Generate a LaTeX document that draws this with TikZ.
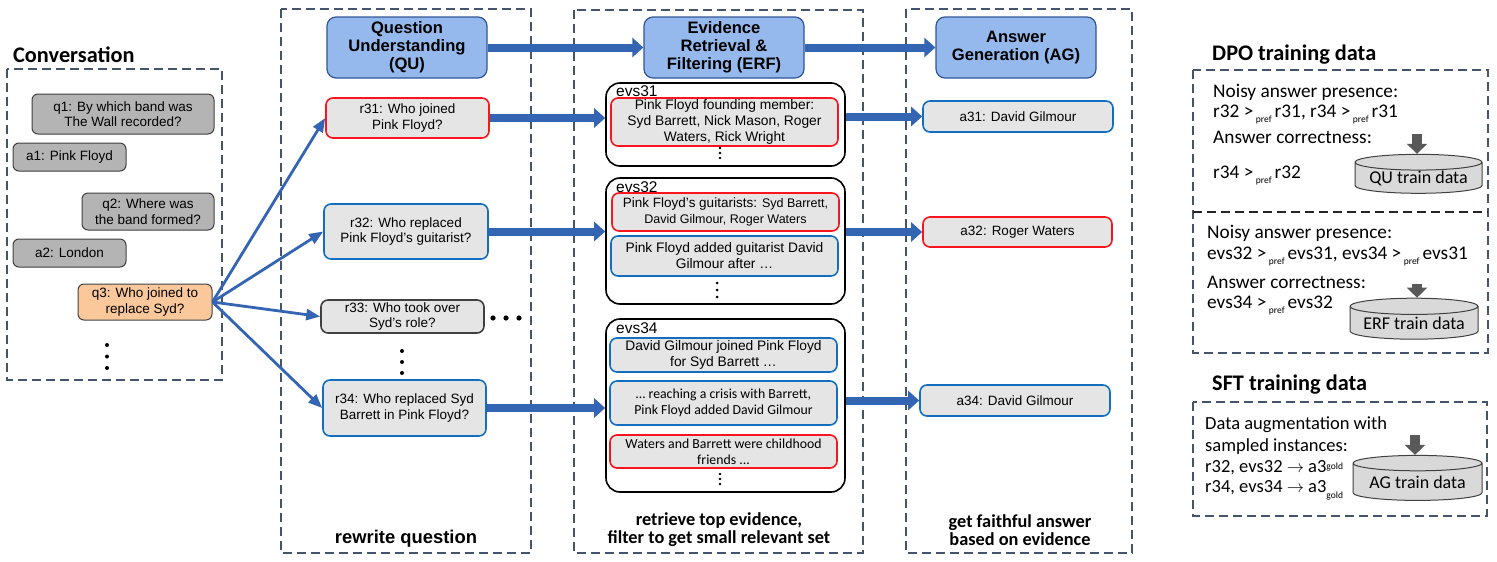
\documentclass[tikz,border=0pt]{standalone}
\usepackage{fontspec}
\setmainfont{Liberation Sans}
\newfontfamily\calibri{Carlito}
\usepackage{tikz}
\usetikzlibrary{arrows.meta,shapes.geometric}
\definecolor{framegray}{RGB}{68,84,106}
\definecolor{headfill}{RGB}{149,185,236}
\definecolor{headline}{RGB}{47,85,151}
\definecolor{flowblue}{RGB}{52,101,178}
\definecolor{chatgray}{RGB}{180,180,180}
\definecolor{chatline}{RGB}{64,64,64}
\definecolor{cardfill}{RGB}{229,229,229}
\definecolor{badred}{RGB}{250,20,30}
\definecolor{goodblue}{RGB}{20,110,190}
\definecolor{askorange}{RGB}{250,200,155}
\definecolor{dbfill}{RGB}{217,217,217}
\definecolor{dbarrowgray}{RGB}{89,89,89}
\newcommand{\boxfont}{\fontsize{13.5}{15.5}\selectfont}
\newcommand{\evfont}{\fontsize{13.8}{16}\selectfont}
\newcommand{\headfont}{\fontsize{16.6}{18}\selectfont\bfseries}
\newcommand{\pref}{\kern2.5pt\raisebox{-5pt}[0pt][0pt]{\fontsize{9.5}{10}\selectfont pref}\kern3pt}
\newcommand{\goldmark}[1]{\raisebox{#1}[0pt][0pt]{\fontsize{9.5}{10}\selectfont gold}}
\begin{document}
\begin{tikzpicture}[x=1pt,y=-1pt,
    colframe/.style={draw=framegray,line width=1.8pt,dash pattern=on 9pt off 5pt},
    hdr/.style={draw=headline,fill=headfill,line width=1.2pt,rounded corners=9pt,minimum width=160pt,minimum height=61pt,align=center,font=\headfont,inner sep=0pt},
    chat/.style={draw=chatline,fill=chatgray,line width=1pt,rounded corners=6pt,align=center,font=\boxfont,inner sep=0pt},
    card/.style={fill=cardfill,line width=1.6pt,rounded corners=7pt,align=center,font=\boxfont,inner sep=0pt},
    redcard/.style={card,draw=badred},
    bluecard/.style={card,draw=goodblue},
    graycard/.style={card,draw=chatline},
    evgroup/.style={draw=black,line width=1.6pt,rounded corners=14pt,inner sep=0pt},
    evtag/.style={anchor=west,inner sep=0pt,font=\fontsize{15.5}{16}\selectfont},
    fatarrow/.style={draw=flowblue,line width=8pt,-{Triangle[width=19pt,length=11pt]}},
    feedarrow/.style={draw=flowblue,line width=2.8pt,-{Triangle[width=11pt,length=14pt]}},
    capt/.style={align=center,inner sep=0pt,font=\calibri\bfseries\fontsize{18.3}{18}\selectfont},
    paneltitle/.style={anchor=west,inner sep=0pt,font=\calibri\bfseries\fontsize{22.3}{24}\selectfont},
    paneltext/.style={anchor=west,inner sep=0pt,font=\calibri\fontsize{18.5}{21}\selectfont},
    dpotext/.style={paneltext,font=\calibri\fontsize{19.3}{21}\selectfont},
    traindb/.style={cylinder,shape border rotate=90,aspect=0.16,draw=chatline,fill=dbfill,line width=1pt,font=\calibri\fontsize{18}{18}\selectfont,inner sep=0pt},
    dbarrow/.style={draw=dbarrowgray,line width=10pt,-{Triangle[width=20pt,length=10pt]}}]
\useasboundingbox (0,0) rectangle (1497,562);

\draw[colframe] (7,69) rectangle (222,380);
\draw[colframe] (281,9) rectangle (531,553);
\draw[colframe] (574,10) rectangle (863,553);
\draw[colframe] (906,9) rectangle (1132,553);

\node[paneltitle] (convtitle) at (13,55) {Conversation};
\node[chat,minimum width=182pt,minimum height=40pt] (q1) at (123,114) {q1: By which band was\\The Wall recorded?};
\node[chat,minimum width=113pt,minimum height=28pt] (a1) at (69.5,157) {a1: Pink Floyd};
\node[chat,minimum width=132pt,minimum height=37pt] (q2) at (148,211.5) {q2: Where was\\the band formed?};
\node[chat,minimum width=113pt,minimum height=28pt] (a2) at (69.5,253) {a2: London};
\node[chat,fill=askorange,minimum width=134pt,minimum height=36pt] (q3) at (145,302) {q3: Who joined to\\replace Syd?};
\foreach \k in {0,1,2} \fill (107,345+11.5*\k) circle[radius=2pt];

\node[hdr] (qu) at (407,47.5) {Question\\Understanding\\(QU)};
\node[redcard,minimum width=163pt,minimum height=40pt] (r31) at (407.5,118) {r31: Who joined\\Pink Floyd?};
\node[bluecard,minimum width=164pt,minimum height=55pt] (r32) at (406,231.5) {r32: Who replaced\\Pink Floyd’s guitarist?};
\node[graycard,minimum width=163pt,minimum height=33pt] (r33) at (402.5,316.5) {r33: Who took over\\Syd’s role?};
\node[bluecard,minimum width=163pt,minimum height=56pt] (r34) at (404.5,408) {r34: Who replaced Syd\\Barrett in Pink Floyd?};
\foreach \k in {0,1,2} \fill (493+13*\k,318) circle[radius=2.6pt];
\foreach \k in {0,1,2} \fill (402,351+11*\k) circle[radius=2pt];
\node[font=\bfseries\fontsize{18.4}{18}\selectfont,inner sep=0pt] (qucap) at (406,539) {rewrite question};

\draw[feedarrow] (q3.east) -- (r31.west);
\draw[feedarrow] (q3.east) -- (r32.west);
\draw[feedarrow] (q3.east) -- (r33.west);
\draw[feedarrow] (q3.east) -- (r34.west);

\node[hdr] (erf) at (724,47.5) {Evidence\\Retrieval \&\\Filtering (ERF)};
\node[evgroup,minimum width=239pt,minimum height=83pt] (ev31) at (725.5,124.5) {};
\node[evtag] (ev31tag) at (616,91) {evs31};
\node[redcard,font=\evfont,minimum width=227pt,minimum height=48pt] (ev31a) at (724.5,122) {Pink Floyd founding member:\\Syd Barrett, Nick Mason, Roger\\Waters, Rick Wright};
\foreach \k in {0,1,2} \fill (720,148+5*\k) circle[radius=1.3pt];

\node[evgroup,minimum width=239pt,minimum height=126pt] (ev32) at (725.5,241) {};
\node[evtag] (ev32tag) at (616,187) {evs32};
\node[redcard,minimum width=227pt,minimum height=38pt] (ev32a) at (725.5,212) {Pink Floyd’s guitarists: {\fontsize{12.5}{15}\selectfont Syd Barrett,}\\{\fontsize{12.5}{15}\selectfont David Gilmour, Roger Waters}};
\node[bluecard,font=\evfont,minimum width=227pt,minimum height=40pt] (ev32b) at (724.5,256) {Pink Floyd added guitarist David\\Gilmour after …};
\foreach \k in {0,1,2} \fill (717,283+7*\k) circle[radius=1.5pt];

\node[evgroup,minimum width=239pt,minimum height=173pt] (ev34) at (725.5,405.5) {};
\node[evtag] (ev34tag) at (616,328) {evs34};
\node[bluecard,font=\evfont,minimum width=227pt,minimum height=34pt] (ev34a) at (723.5,355) {David Gilmour joined Pink Floyd\\for Syd Barrett …};
\node[bluecard,font=\calibri\evfont,minimum width=227pt,minimum height=44pt] (ev34b) at (723.5,403) {… reaching a crisis with Barrett,\\Pink Floyd added David Gilmour};
\node[redcard,font=\calibri\evfont,minimum width=227pt,minimum height=33pt] (ev34c) at (723.5,451.5) {Waters and Barrett were childhood\\friends ...};
\foreach \k in {0,1,2} \fill (720,474+5*\k) circle[radius=1.3pt];
\node[capt] (erfcap) at (719,530) {retrieve top evidence,\\filter to get small relevant set};

\node[hdr] (ag) at (1016,47.5) {Answer\\Generation (AG)};
\node[bluecard,minimum width=190pt,minimum height=31pt] (a31) at (1018,116.5) {a31: David Gilmour};
\node[redcard,minimum width=189pt,minimum height=30pt] (a32) at (1017.5,232) {a32: Roger Waters};
\node[bluecard,minimum width=190pt,minimum height=31pt] (a34) at (1015,400.5) {a34: David Gilmour};
\node[capt] (agcap) at (1020,530) {get faithful answer\\based on evidence};

\draw[fatarrow] (qu) -- (erf);
\draw[fatarrow] (erf) -- (ag);
\draw[fatarrow] (r31.east) -- (r31.east -| ev31.west);
\draw[fatarrow] (r32.east) -- (r32.east -| ev32.west);
\draw[fatarrow] (r34.east) -- (r34.east -| ev34.west);
\draw[fatarrow] (ev31.east |- a31.west) -- (a31.west);
\draw[fatarrow] (ev32.east |- a32.west) -- (a32.west);
\draw[fatarrow] (ev34.east |- a34.west) -- (a34.west);

\node[paneltitle] (dpotitle) at (1212,55) {DPO training data};
\draw[colframe] (1193,70) rectangle (1488,353);
\draw[line width=1.8pt,dash pattern=on 9pt off 5pt,draw=black!85] (1193,212) -- (1488,212);
\node[dpotext] (qunoisy) at (1213,92) {Noisy answer presence:};
\node[dpotext] (qunoisypairs) at (1213,112) {r32 >\pref r31, r34 >\pref r31};
\node[dpotext] (qucorrect) at (1213,137) {Answer correctness:};
\node[dpotext] (qucorrectpair) at (1213,172) {r34 >\pref r32};
\node[dpotext] (erfnoisy) at (1207,233) {Noisy answer presence:};
\node[dpotext] (erfnoisypairs) at (1207,254) {evs32 >\pref evs31, evs34 >\pref evs31};
\node[dpotext] (erfcorrect) at (1207,282) {Answer correctness:};
\node[dpotext] (erfcorrectpair) at (1207,302) {evs34 >\pref evs32};
\node[traindb,minimum width=127pt,minimum height=37pt] (qudb) at (1418.5,178) {QU train data};
\coordinate (qufeed) at (1417,134);
\draw[dbarrow] (qufeed) -- (qufeed |- qudb.north);

\node[traindb,minimum width=128pt,minimum height=41pt] (erfdb) at (1414,323) {ERF train data};
\coordinate (erffeed) at (1417,284);
\draw[dbarrow] (erffeed) -- (erffeed |- erfdb.north);

\node[paneltitle] (sfttitle) at (1212,385) {SFT training data};
\draw[colframe] (1193,402) rectangle (1487,516);
\node[paneltext] (sftaug) at (1205,425) {Data augmentation with};
\node[paneltext] (sftsampled) at (1205,447) {sampled instances:};
\node[paneltext] (sftpair1) at (1205,468) {r32, evs32 $\rightarrow$ a3\goldmark{3pt}};
\node[paneltext] (sftpair2) at (1205,488) {r34, evs34 $\rightarrow$ a3\goldmark{-6pt}};
\node[traindb,minimum width=129pt,minimum height=45pt] (agdb) at (1417.5,482) {AG train data};
\coordinate (agfeed) at (1415,435);
\draw[dbarrow] (agfeed) -- (agfeed |- agdb.north);
\end{tikzpicture}
\end{document}
